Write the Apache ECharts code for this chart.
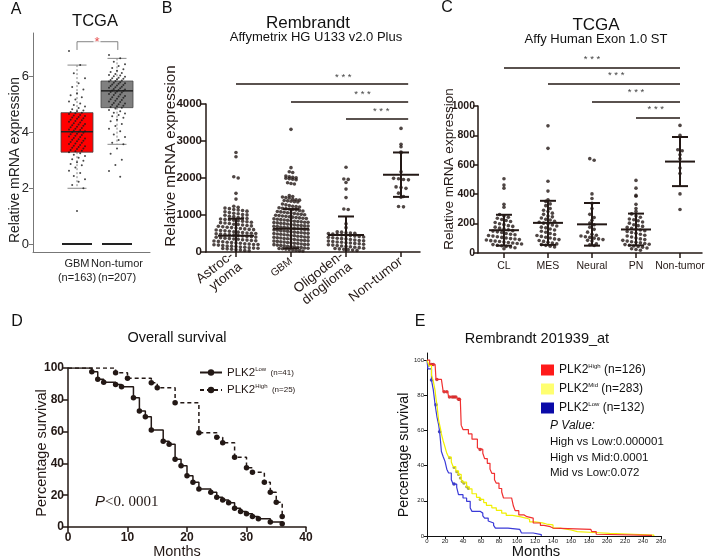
<!DOCTYPE html>
<html><head><meta charset="utf-8">
<script src="https://cdn.jsdelivr.net/npm/echarts@6/dist/echarts.min.js"></script>
<style>html,body{margin:0;padding:0;background:#fff}#c{width:709px;height:558px}</style>
</head><body><div id="c"></div><script>
const FONT = '"Liberation Sans", Arial, sans-serif';
const INK = '#231815';

// ---------- Panel A (TCGA box plot) ----------
const aCategories = ['GBM\n(n=163)', 'Non-tumor\n(n=207)'];
const aTicks = [0, 2, 4, 6];
// [lower whisker, Q1, median, Q3, upper whisker]
const aBoxStats = [[1.99, 3.28, 4.01, 4.69, 6.39], [3.56, 4.87, 5.47, 5.82, 6.63]];
const aBaseline = [0, 0];
const aBoxColors = ['#ff0000', '#808080'];
const aGBM = [6.89, 6.39, 6.1, 5.92, 5.74, 5.61, 5.52, 5.38, 5.31, 5.24, 5.16, 5.09, 5.02, 4.96, 4.91, 4.86, 4.81, 4.77, 4.74, 4.71, 4.69, 4.67, 4.64, 4.61, 4.59, 4.57, 4.54, 4.52, 4.49, 4.47, 4.44, 4.42, 4.39, 4.37, 4.34, 4.31, 4.29, 4.27, 4.24, 4.22, 4.19, 4.17, 4.14, 4.12, 4.09, 4.07, 4.05, 4.03, 4.01, 3.99, 3.97, 3.94, 3.92, 3.89, 3.87, 3.84, 3.82, 3.79, 3.77, 3.74, 3.72, 3.69, 3.67, 3.64, 3.62, 3.59, 3.57, 3.54, 3.51, 3.49, 3.46, 3.44, 3.41, 3.39, 3.36, 3.33, 3.31, 3.28, 3.24, 3.19, 3.14, 3.08, 3.03, 2.97, 2.92, 2.86, 2.81, 2.73, 2.62, 2.54, 2.43, 2.31, 2.22, 2.11, 1.99, 1.18];
const aNonTumor = [6.75, 6.63, 6.51, 6.42, 6.36, 6.29, 6.24, 6.19, 6.14, 6.11, 6.07, 6.04, 6.02, 5.99, 5.97, 5.94, 5.92, 5.9, 5.88, 5.86, 5.84, 5.82, 5.8, 5.78, 5.76, 5.74, 5.72, 5.7, 5.68, 5.66, 5.64, 5.62, 5.6, 5.58, 5.56, 5.54, 5.52, 5.5, 5.48, 5.47, 5.45, 5.43, 5.41, 5.39, 5.36, 5.34, 5.32, 5.29, 5.27, 5.24, 5.22, 5.19, 5.17, 5.14, 5.12, 5.09, 5.07, 5.04, 5.02, 4.99, 4.97, 4.94, 4.92, 4.89, 4.87, 4.84, 4.79, 4.74, 4.69, 4.66, 4.61, 4.56, 4.51, 4.44, 4.38, 4.29, 4.21, 4.12, 4.03, 3.91, 3.82, 3.71, 3.62, 3.56, 3.41, 3.22, 3.01, 2.82, 2.61, 2.4];

// ---------- Panel B (Rembrandt) ----------
const bCategories = ['Astroc-\nytoma', 'GBM', 'Oligoden-\ndroglioma', 'Non-tumor'];
const bTicks = [0, 1000, 2000, 3000, 4000];
const bAstro = [2690, 2575, 2035, 2000, 1585, 1430, 1235, 1208, 1186, 1172, 1150, 1133, 1121, 1104, 1088, 1065, 1047, 1032, 1015, 1003, 992, 968, 955, 934, 921, 906, 893, 881, 872, 858, 846, 831, 817, 805, 793, 784, 771, 752, 743, 728, 716, 705, 694, 683, 668, 659, 647, 636, 624, 611, 604, 596, 583, 571, 562, 548, 537, 526, 515, 506, 501, 493, 484, 472, 463, 455, 446, 431, 422, 414, 403, 397, 386, 375, 362, 351, 344, 332, 321, 312, 304, 296, 287, 276, 265, 254, 246, 235, 224, 213, 204, 201, 195, 186, 174, 163, 158, 146, 133, 127, 115, 106, 102, 94, 85, 73, 64, 52, 41, 33];
const bGBM = [3315, 2280, 2170, 2150, 2055, 2032, 2018, 2004, 1995, 1983, 1966, 1952, 1872, 1851, 1838, 1523, 1502, 1488, 1472, 1461, 1425, 1414, 1402, 1391, 1383, 1372, 1361, 1352, 1296, 1274, 1255, 1238, 1226, 1213, 1195, 1184, 1171, 1162, 1148, 1137, 1121, 1110, 1096, 1084, 1073, 1062, 1051, 1040, 1028, 1017, 1006, 995, 984, 972, 963, 951, 942, 930, 921, 912, 903, 896, 887, 875, 866, 855, 846, 833, 824, 815, 806, 801, 794, 786, 775, 766, 754, 745, 733, 724, 713, 706, 702, 697, 688, 676, 667, 655, 648, 636, 627, 618, 609, 603, 598, 589, 577, 566, 558, 546, 537, 528, 519, 511, 504, 497, 488, 479, 466, 458, 447, 438, 426, 418, 407, 401, 396, 387, 378, 366, 357, 348, 337, 326, 318, 309, 302, 295, 286, 277, 268, 256, 247, 238, 229, 217, 206, 201, 198, 187, 178, 169, 157, 148, 139, 126, 117, 108, 103, 96, 88, 79, 67, 58, 49, 37, 28];
const bOligo = [2290, 1975, 1962, 1880, 1700, 1470, 1162, 1148, 762, 658, 548, 536, 521, 512, 505, 497, 486, 472, 461, 452, 443, 430, 418, 404, 396, 385, 372, 361, 350, 338, 326, 312, 303, 294, 283, 271, 262, 251, 242, 233, 221, 208, 197, 186, 173, 164, 152, 141, 128, 117, 104, 95, 84, 72, 63, 51, 43];
const bNonTumor = [3340, 2910, 2845, 2700, 2680, 2170, 1990, 1980, 1960, 1950, 1760, 1740, 1720, 1590, 1500, 1480, 1230, 1220];
const bMean = [440, 630, 460, 2090];
const bSD = [460, 530, 500, 600];

// ---------- Panel C (TCGA subtypes) ----------
const cCategories = ['CL', 'MES', 'Neural', 'PN', 'Non-tumor'];
const cTicks = [0, 200, 400, 600, 800, 1000];
const cCL = [505, 462, 441, 332, 312, 262, 251, 243, 236, 228, 221, 214, 207, 199, 193, 186, 181, 176, 169, 163, 158, 152, 149, 144, 139, 133, 128, 124, 119, 115, 111, 106, 102, 98, 95, 91, 88, 84, 81, 78, 74, 71, 68, 65, 61, 57, 53, 49, 45, 41, 36, 29];
const cMES = [865, 712, 488, 421, 362, 351, 334, 322, 303, 291, 282, 271, 263, 252, 246, 238, 229, 224, 216, 209, 203, 198, 191, 184, 176, 171, 163, 156, 148, 141, 133, 126, 119, 113, 107, 102, 96, 91, 85, 79, 73, 68, 62, 57, 52, 46, 41];
const cNeural = [642, 631, 402, 371, 338, 302, 263, 241, 222, 204, 192, 176, 161, 142, 127, 121, 116, 111, 106, 101, 96, 91, 86, 81, 62, 56, 51];
const cPN = [494, 441, 392, 386, 331, 302, 283, 266, 252, 243, 231, 226, 219, 211, 203, 192, 186, 181, 174, 168, 161, 156, 151, 146, 139, 134, 128, 121, 116, 109, 102, 96, 91, 86, 81, 77, 73, 69, 64, 60, 57, 53, 48, 44, 39, 34, 29, 24, 19];
const cNonTumor = [868, 800, 702, 696, 668, 641, 578, 541, 402, 296];
const cMean = [155, 205, 195, 160, 622];
const cSD = [105, 150, 145, 108, 167];

// ---------- Panel D (overall survival) ----------
const dLowMonths = [0, 4, 5, 6, 8, 9, 11, 12, 13, 14, 16, 17, 18, 19, 20, 21, 22, 24, 25, 26, 27, 28, 29, 30, 31, 32, 34, 36];
const dLowSurv = [100, 97.6, 93, 91, 89.6, 88.2, 81.3, 73, 69.4, 61, 54, 52, 42.6, 38.6, 32.3, 28.1, 23.9, 21.8, 18.7, 17, 15.3, 11.8, 9.7, 8.3, 6.6, 5.2, 3.1, 2.1];
const dHighMonths = [0, 8, 10, 14, 15, 18, 22, 25, 26, 28, 30, 31, 33, 34, 35, 36];
const dHighSurv = [100, 97, 93.5, 90.8, 87.6, 78.2, 59.3, 56.4, 53, 43.8, 37.3, 34.4, 28.1, 21.8, 15.5, 6.6];

// ---------- Panel E (Rembrandt 201939_at) ----------
const eTicksY = [0, 20, 40, 60, 80, 100];
const eHighMonths = [0, 3, 9, 10, 16, 18, 23, 24, 33, 34, 37, 38, 40, 46, 50, 56, 58, 62, 64, 67, 70, 72, 75, 77, 80, 83, 85, 94, 96, 98, 102, 108, 111, 118, 126, 130, 137, 140, 182, 183, 188, 190, 250];
const eHighSurv = [100, 97.5, 97.5, 89, 88, 82, 82, 79, 79, 77.7, 77.7, 63, 60.5, 58, 55, 50, 49.2, 47, 44, 41.3, 38, 35.6, 32, 30, 27, 25, 21.6, 21.6, 17, 14.4, 12, 11, 10.2, 7.4, 6, 5.3, 4.5, 3.8, 3.8, 2.5, 1, 0.4, 0.4];
const eMidMonths = [0, 2, 5, 7, 9, 10, 11, 12, 13, 15, 16, 18, 20, 22, 24, 27, 29, 32, 35, 38, 40, 44, 47, 50, 55, 59, 63, 66, 72, 77, 83, 88, 95, 103, 110, 114, 120, 128, 133, 140, 148, 160, 167, 185, 203, 230, 252];
const eMidSurv = [100, 97, 91.5, 88, 82.6, 78, 75, 70, 65.5, 61, 58, 54, 50.6, 47, 44.9, 42, 39.5, 37, 35, 32, 30.6, 28, 26.8, 24, 22, 20.8, 19, 17.4, 16, 14.6, 13, 11.7, 11, 10.2, 9.5, 8, 7.5, 6.8, 6.3, 4.5, 3.4, 2.5, 2, 1.5, 1, 0.5, 0];
const eLowMonths = [0, 1, 5, 7, 9, 11, 13, 14, 15, 16, 18, 20, 22, 24, 27, 29, 33, 35, 40, 44, 48, 50, 59, 62, 64, 68, 70, 74, 76, 85, 90, 103, 105, 118, 127, 127];
const eLowSurv = [100, 95, 88.6, 83, 74.6, 67.9, 63, 59.3, 54, 48, 45, 42.4, 38, 35.8, 32, 29.5, 27.6, 23.5, 21.6, 19.7, 15.9, 14, 13, 11.5, 10.2, 8.5, 7.4, 6, 4.5, 4.5, 3.8, 3.6, 1.7, 0.8, 0.8, 0];
const eHighCensor = [[5, 97.5], [7, 97.5], [11, 89], [19, 82], [22, 82], [25, 79], [28, 79], [30, 79], [32, 79], [35, 77.7], [36, 77.7], [59, 49.2]];
const eMidCensor = [[2, 97], [25, 44.5], [30, 39], [33, 36.5], [35, 35], [37, 33], [39, 31], [41, 30], [44, 28], [46, 27], [59, 20.8]];
const eLowCensor = [[5, 88.6], [10, 74.6], [14, 59.3], [30, 29.5]];

// ---------- helpers (layout only) ----------
function swarm(values, cat, bin, step) {
  const groups = new Map();
  values.forEach(v => { const k = Math.floor(v / bin); if (!groups.has(k)) groups.set(k, []); groups.get(k).push(v); });
  const pts = [];
  groups.forEach(list => { const n = list.length; list.forEach((v, j) => pts.push([cat + (j - (n - 1) / 2) * step, v])); });
  return pts;
}
function spreadPts(values, cat, spread) {
  return values.map((v, k) => [cat + (((k * 7) % 11) / 10 - 0.5) * 2 * spread, v]);
}
function zip(xs, ys) { return xs.map((x, i) => [x, ys[i]]); }

const errRender = (half, cap) => (params, api) => {
  const x = api.value(0), m = api.value(1), s = api.value(2);
  const pm = api.coord([x, m]);
  const hi = api.coord([x, m + s]);
  const lo = api.coord([x, Math.max(m - s, 0)]);
  const st = { stroke: INK, lineWidth: 2 };
  const ch = [
    { type: 'line', shape: { x1: pm[0] - half, y1: pm[1], x2: pm[0] + half, y2: pm[1] }, style: st },
    { type: 'line', shape: { x1: hi[0], y1: hi[1], x2: lo[0], y2: lo[1] }, style: st },
    { type: 'line', shape: { x1: hi[0] - cap, y1: hi[1], x2: hi[0] + cap, y2: hi[1] }, style: st }
  ];
  if (m - s > 0) ch.push({ type: 'line', shape: { x1: lo[0] - cap, y1: lo[1], x2: lo[0] + cap, y2: lo[1] }, style: st });
  return { type: 'group', children: ch };
};
const sigRender = (params, api) => {
  const x1 = api.value(0), x2 = api.value(1), y = api.value(2), sx = api.value(3), sy = api.value(4);
  const a = api.coord([x1, y]), b = api.coord([x2, y]), s = api.coord([sx, sy]);
  return { type: 'group', children: [
    { type: 'line', shape: { x1: a[0], y1: a[1], x2: b[0], y2: b[1] }, style: { stroke: INK, lineWidth: 1.5 } },
    { type: 'text', x: s[0], y: s[1], style: { text: '* * *', textAlign: 'center', align: 'center', textVerticalAlign: 'middle', verticalAlign: 'middle', fontSize: 9.5, fontFamily: FONT, fill: '#444', textFill: '#444' } }
  ] };
};

// significance annotations: [from, to, lineY, starX, starY]
const bSig = [[0, 3.13, 4540, 1.95, 4730], [1, 3.13, 4054, 2.3, 4260], [2, 3.13, 3595, 2.64, 3790]];
const cSig = [[0, 4, 1258, 2.0, 1320], [1, 4, 1150, 2.55, 1210], [2, 4, 1027, 3.0, 1090], [3, 4, 918, 3.45, 980]];

const boxRender = (params, api) => {
  const i = params.dataIndex;
  const x = api.value(0);
  const lo = api.coord([x, api.value(1)]), q1 = api.coord([x, api.value(2)]), md = api.coord([x, api.value(3)]);
  const q3 = api.coord([x, api.value(4)]), hi = api.coord([x, api.value(5)]), b0 = api.coord([x, api.value(6)]);
  const hw = 16, cw = 9.5;
  const ws = { stroke: '#666', lineWidth: 0.8, lineDash: [2, 2] };
  const cs = { stroke: '#888', lineWidth: 1 };
  return { type: 'group', children: [
    { type: 'line', shape: { x1: hi[0], y1: hi[1], x2: q3[0], y2: q3[1] }, style: ws },
    { type: 'line', shape: { x1: q1[0], y1: q1[1], x2: lo[0], y2: lo[1] }, style: ws },
    { type: 'line', shape: { x1: hi[0] - cw, y1: hi[1], x2: hi[0] + cw, y2: hi[1] }, style: cs },
    { type: 'line', shape: { x1: lo[0] - cw, y1: lo[1], x2: lo[0] + cw, y2: lo[1] }, style: cs },
    { type: 'rect', shape: { x: q3[0] - hw, y: q3[1], width: 2 * hw, height: q1[1] - q3[1] }, style: { fill: aBoxColors[i], stroke: '#444', lineWidth: 0.8 } },
    { type: 'line', shape: { x1: md[0] - hw, y1: md[1], x2: md[0] + hw, y2: md[1] }, style: { stroke: '#222', lineWidth: 1.5 } },
    { type: 'line', shape: { x1: b0[0] - hw + 1, y1: b0[1], x2: b0[0] + hw - 1, y2: b0[1] }, style: { stroke: '#222', lineWidth: 2 } }
  ] };
};

function txt(text, x, y, size, opts) {
  opts = opts || {};
  return { type: 'text', x: x, y: y, rotation: opts.rot || 0, silent: true, style: Object.assign({
    text: text, fontSize: size, fontFamily: FONT, fill: opts.color || '#111', textFill: opts.color || '#111',
    textAlign: opts.align || 'center', align: opts.align || 'center',
    textVerticalAlign: 'middle', verticalAlign: 'middle', fontWeight: opts.weight || 'normal', fontStyle: opts.style || 'normal'
  }, opts.extra || {}) };
}

const gpAxis = (extra) => Object.assign({
  axisLine: { onZero: false, lineStyle: { color: INK, width: 1.5 } },
  axisTick: { length: 5, lineStyle: { color: INK, width: 1.5 } },
  axisLabel: { color: INK, fontWeight: 'bold', fontSize: 11.5, fontFamily: FONT },
  splitLine: { show: false }
}, extra);

const legendNames = {
  dLow: '{m|PLK2}{s|Low}{n|  (n=41)}', dHigh: '{m|PLK2}{s|High}{n|  (n=25)}',
  eHigh: '{m|PLK2}{s|High}{m| (n=126)}', eMid: '{m|PLK2}{s|Mid}{m| (n=283)}', eLow: '{m|PLK2}{s|Low}{m| (n=132)}'
};
const ROT = Math.PI / 2;
const aLabelStyle = { color: '#222', fontSize: 11, lineHeight: 14, margin: 5, showMinLabel: true, showMaxLabel: true, formatter: v => aCategories[Math.round(v)] };

const option = {
  animation: false,
  textStyle: { fontFamily: FONT },
  grid: [
    { left: 33, top: 33, width: 117, height: 219 },
    { left: 206, top: 104, width: 214, height: 148 },
    { left: 478, top: 106, width: 224, height: 147 },
    { left: 68, top: 368, width: 238, height: 159 },
    { left: 427, top: 353, width: 234, height: 183 }
  ],
  xAxis: [
    { gridIndex: 0, type: 'value', min: -1.1, max: 1.825, splitLine: { show: false },
      axisLine: { onZero: false, lineStyle: { color: '#777', width: 1 } }, axisTick: { show: false },
      axisLabel: Object.assign({ customValues: [0] }, aLabelStyle) },
    gpAxis({ gridIndex: 1, type: 'value', min: -0.545, max: 3.345,
      axisTick: { customValues: [0, 1, 2, 3], length: 5, lineStyle: { color: INK, width: 1.5 } },
      axisLabel: { customValues: [0, 1, 2, 3], showMinLabel: true, showMaxLabel: true, rotate: 38, margin: 8, color: INK, fontSize: 13.5, fontFamily: FONT, lineHeight: 14,
        formatter: v => { const s = bCategories[Math.round(v)]; return s === 'GBM' ? '{g|GBM}' : s; }, rich: { g: { fontSize: 10.5, color: INK } } } }),
    gpAxis({ gridIndex: 2, type: 'value', min: -0.59, max: 4.5,
      axisTick: { customValues: [0, 1, 2, 3, 4], length: 5, lineStyle: { color: INK, width: 1.5 } },
      axisLabel: { customValues: [0, 1, 2, 3, 4], showMinLabel: true, showMaxLabel: true, formatter: v => cCategories[Math.round(v)], color: INK, fontSize: 10.5, margin: 8 } }),
    gpAxis({ gridIndex: 3, type: 'value', min: 0, max: 40, interval: 10,
      axisLabel: { color: INK, fontWeight: 'bold', fontSize: 12, margin: 5 } }),
    { gridIndex: 4, type: 'value', min: 0, max: 260, interval: 20, splitLine: { show: false },
      axisLine: { onZero: false, lineStyle: { color: '#111', width: 1 } }, axisTick: { length: 3, lineStyle: { color: '#111' } },
      axisLabel: { fontSize: 6, color: '#222', margin: 2 } },
    // second label carrier for panel A (Non-tumor), same scale as xAxis 0
    { gridIndex: 0, type: 'value', position: 'bottom', min: -1.1, max: 1.825, splitLine: { show: false },
      axisLine: { show: false, onZero: false }, axisTick: { show: false },
      axisLabel: Object.assign({ customValues: [1] }, aLabelStyle) }
  ],
  yAxis: [
    { gridIndex: 0, type: 'value', min: -0.286, max: 7.536, splitLine: { show: false },
      axisLine: { onZero: false, lineStyle: { color: '#777', width: 1 } },
      axisTick: { customValues: aTicks, length: 4, lineStyle: { color: '#777' } },
      axisLabel: { customValues: aTicks, color: '#222', fontSize: 13, margin: 4 } },
    gpAxis({ gridIndex: 1, type: 'value', min: 0, max: 4000, interval: 1000,
      axisLabel: { customValues: bTicks, formatter: v => String(v), color: INK, fontWeight: 'bold', fontSize: 11.5, margin: 4 } }),
    gpAxis({ gridIndex: 2, type: 'value', min: 0, max: 1000, interval: 200,
      axisLabel: { customValues: cTicks, formatter: v => String(v), color: INK, fontWeight: 'bold', fontSize: 10.5, margin: 3 } }),
    gpAxis({ gridIndex: 3, type: 'value', min: 0, max: 100, interval: 20,
      axisLabel: { color: INK, fontWeight: 'bold', fontSize: 12, margin: 4 } }),
    { gridIndex: 4, type: 'value', min: 0, max: 104, splitLine: { show: false },
      axisLine: { onZero: false, lineStyle: { color: '#111', width: 1 } },
      axisTick: { customValues: eTicksY, length: 3, lineStyle: { color: '#111' } },
      axisLabel: { customValues: eTicksY, fontSize: 6, color: '#222', margin: 3 } }
  ],
  legend: [
    { data: ['dLow', 'dHigh'], left: 194, top: 361, orient: 'vertical', itemWidth: 22, itemHeight: 8, itemGap: 5,
      formatter: n => legendNames[n], textStyle: { color: INK, rich: {
        m: { fontSize: 11.5, lineHeight: 13, color: INK }, s: { fontSize: 6, lineHeight: 7, verticalAlign: 'top', color: INK }, n: { fontSize: 8, lineHeight: 13, color: INK } } } },
    { data: [{ name: 'eHigh', itemStyle: { color: '#ff1a1a' } }, { name: 'eMid', itemStyle: { color: '#ffff70' } }, { name: 'eLow', itemStyle: { color: '#0a0aa8' } }],
      left: 536, top: 358, orient: 'vertical', icon: 'rect', itemWidth: 13, itemHeight: 11, itemGap: 6,
      formatter: n => legendNames[n], textStyle: { color: '#111', rich: {
        m: { fontSize: 12, lineHeight: 14, color: '#111' }, s: { fontSize: 6, lineHeight: 7, verticalAlign: 'top', color: '#111' } } } }
  ],
  graphic: [
    txt('A', 16, 10, 16), txt('B', 167, 9, 16), txt('C', 447, 8, 16), txt('D', 17, 322, 16), txt('E', 420, 322, 16),
    txt('TCGA', 95, 21, 16.5),
    txt('Rembrandt', 308, 23, 17), txt('Affymetrix HG U133 v2.0 Plus', 316, 37, 13),
    txt('TCGA', 596, 25, 17), txt('Affy Human Exon 1.0 ST', 596, 39, 13),
    txt('Overall survival', 177, 338, 14.5),
    txt('Rembrandt 201939_at', 537, 339, 14.5),
    txt('Relative mRNA expression', 15, 160, 13.9, { rot: ROT, color: '#222' }),
    txt('Relative mRNA expression', 171, 156, 15.2, { rot: ROT, color: INK }),
    txt('Relative mRNA expression', 449, 169, 13.5, { rot: ROT, color: INK }),
    txt('Percentage survival', 42, 453, 14.5, { rot: ROT, color: INK }),
    txt('Percentage survival', 404, 455, 14.2, { rot: ROT }),
    txt('Months', 177, 552, 14.5, { color: INK }),
    txt('Months', 536, 552, 14.8),
    txt('P Value:', 550, 426, 12, { align: 'left', style: 'italic' }),
    txt('High vs Low:0.000001', 550, 442, 11.5, { align: 'left' }),
    txt('High vs Mid:0.0001', 550, 457.5, 11.5, { align: 'left' }),
    txt('Mid vs Low:0.072', 550, 473, 11.5, { align: 'left' }),
    { type: 'text', x: 95, y: 502, silent: true, style: { text: '{p|P}{v|<0. 0001}', textVerticalAlign: 'middle', verticalAlign: 'middle',
      rich: { p: { fontSize: 15, fontStyle: 'italic', fontFamily: FONT, fill: INK, color: INK }, v: { fontSize: 15, fontFamily: '"Liberation Serif", serif', fill: INK, color: INK } } } }
  ],
  series: [
    // Panel A
    { type: 'custom', xAxisIndex: 0, yAxisIndex: 0, renderItem: boxRender, data: aBoxStats.map((s, i) => [i].concat(s, [aBaseline[i]])), z: 1 },
    { type: 'scatter', xAxisIndex: 0, yAxisIndex: 0, symbolSize: 2, itemStyle: { color: '#1a1a1a' }, z: 3,
      data: spreadPts(aGBM, 0, 0.2).concat(spreadPts(aNonTumor, 1, 0.2)) },
    { type: 'line', xAxisIndex: 0, yAxisIndex: 0, symbol: 'none', lineStyle: { color: '#666', width: 0.8 }, z: 3,
      data: [[0.0, 6.93], [0.0, 7.225], [1.02, 7.225], [1.02, 6.93]] },
    { type: 'scatter', xAxisIndex: 0, yAxisIndex: 0, symbolSize: 0, z: 4, data: [[0.5, 7.2]],
      label: { show: true, position: 'inside', formatter: '*', color: '#e02020', fontSize: 13, backgroundColor: '#fff', padding: [0, 1, 0, 1] } },
    // Panel B
    { type: 'scatter', xAxisIndex: 1, yAxisIndex: 1, symbolSize: 3.6, itemStyle: { color: INK },
      data: swarm(bAstro, 0, 100, 0.08).concat(swarm(bGBM, 1, 100, 0.062), swarm(bOligo, 2, 100, 0.08), swarm(bNonTumor, 3, 100, 0.09)) },
    { type: 'custom', xAxisIndex: 1, yAxisIndex: 1, renderItem: errRender(18, 8), data: bMean.map((m, i) => [i, m, bSD[i]]), z: 5 },
    { type: 'custom', xAxisIndex: 1, yAxisIndex: 1, renderItem: sigRender, data: bSig, clip: false },
    // Panel C
    { type: 'scatter', xAxisIndex: 2, yAxisIndex: 2, symbolSize: 3.6, itemStyle: { color: INK },
      data: swarm(cCL, 0, 30, 0.1).concat(swarm(cMES, 1, 30, 0.1), swarm(cNeural, 2, 30, 0.1), swarm(cPN, 3, 30, 0.1), swarm(cNonTumor, 4, 30, 0.1)) },
    { type: 'custom', xAxisIndex: 2, yAxisIndex: 2, renderItem: errRender(15, 8), data: cMean.map((m, i) => [i, m, cSD[i]]), z: 5 },
    { type: 'custom', xAxisIndex: 2, yAxisIndex: 2, renderItem: sigRender, data: cSig, clip: false },
    // Panel D
    { name: 'dLow', type: 'line', xAxisIndex: 3, yAxisIndex: 3, step: 'end', symbol: 'circle', symbolSize: 5.5,
      lineStyle: { color: INK, width: 1.5 }, itemStyle: { color: INK },
      data: zip(dLowMonths, dLowSurv).map((p, i) => ({ value: p, symbolSize: i === 0 ? 0 : 5.5 })) },
    { name: 'dHigh', type: 'line', xAxisIndex: 3, yAxisIndex: 3, step: 'end', symbol: 'circle', symbolSize: 5.5,
      lineStyle: { color: INK, width: 1.5, type: [4, 3] }, itemStyle: { color: INK },
      data: zip(dHighMonths, dHighSurv).map((p, i) => ({ value: p, symbolSize: i === 0 ? 0 : 5.5 })) },
    // Panel E
    { name: 'eLow', type: 'line', xAxisIndex: 4, yAxisIndex: 4, step: 'end', symbol: 'none', lineStyle: { color: '#3a3ad8', width: 1.2 }, itemStyle: { color: '#0a0aa8' },
      data: zip(eLowMonths, eLowSurv) },
    { name: 'eMid', type: 'line', xAxisIndex: 4, yAxisIndex: 4, step: 'end', symbol: 'none', lineStyle: { color: '#f0f000', width: 1.2 }, itemStyle: { color: '#ffff70' },
      data: zip(eMidMonths, eMidSurv) },
    { name: 'eHigh', type: 'line', xAxisIndex: 4, yAxisIndex: 4, step: 'end', symbol: 'none', lineStyle: { color: '#f03030', width: 1.2 }, itemStyle: { color: '#ff1a1a' },
      data: zip(eHighMonths, eHighSurv) },
    { type: 'scatter', xAxisIndex: 4, yAxisIndex: 4, symbolSize: 3.5, itemStyle: { color: '#c01818' }, data: eHighCensor },
    { type: 'scatter', xAxisIndex: 4, yAxisIndex: 4, symbolSize: 3, itemStyle: { color: '#9a9a20' }, data: eMidCensor },
    { type: 'scatter', xAxisIndex: 4, yAxisIndex: 4, symbolSize: 3.5, itemStyle: { color: '#1010a0' }, data: eLowCensor }
  ]
};
const chart = echarts.init(document.getElementById('c'));
chart.setOption(option);
</script></body></html>
